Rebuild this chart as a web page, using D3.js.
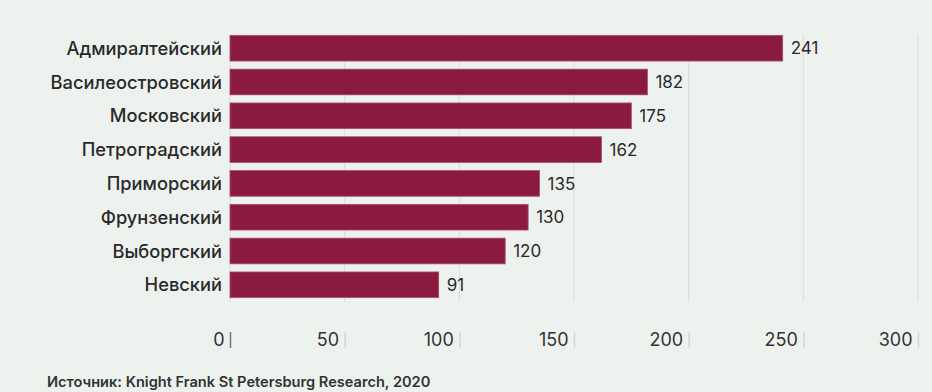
<!DOCTYPE html>
<html>
<head>
<meta charset="utf-8">
<script src="https://cdn.jsdelivr.net/npm/d3@7"></script>
<style>
  html, body { margin: 0; padding: 0; background: #eef2ef; }
  svg { display: block; font-family: Inter, "Noto Sans", sans-serif; }
</style>
</head>
<body>
<div id="chart"></div>
<script>
const districts = ['Адмиралтейский', 'Василеостровский', 'Московский', 'Петроградский',
  'Приморский', 'Фрунзенский', 'Выборгский', 'Невский'];
const values = [241, 182, 175, 162, 135, 130, 120, 91];
const ticks = [0, 50, 100, 150, 200, 250, 300];
const sourceNote = 'Источник: Knight Frank St Petersburg Research, 2020';

const width = 932, height = 392;
const margin = { top: 34, right: 14, bottom: 93, left: 230 };

const svg = d3.select('#chart').append('svg')
  .attr('width', width)
  .attr('height', height);

const x = d3.scaleLinear()
  .domain([0, 300])
  .range([margin.left, width - margin.right]);

const y = d3.scaleBand()
  .domain(districts)
  .range([margin.top, height - margin.bottom])
  .paddingInner(0.24)
  .paddingOuter(0.04);

// vertical grid lines behind the bars
svg.append('g')
  .selectAll('line')
  .data(ticks)
  .enter()
  .append('line')
  .attr('x1', d => x(d))
  .attr('x2', d => x(d))
  .attr('y1', margin.top)
  .attr('y2', height - margin.bottom + 3)
  .attr('stroke', '#d9dcda')
  .attr('stroke-width', 1);

svg.append('g')
  .selectAll('rect')
  .data(values)
  .enter()
  .append('rect')
  .attr('x', x(0))
  .attr('y', (d, i) => y(districts[i]))
  .attr('width', d => x(d) - x(0))
  .attr('height', y.bandwidth())
  .attr('fill', '#8a1b3f')
  .attr('stroke', '#a8506c')
  .attr('stroke-width', 0.8);

// value labels
svg.append('g')
  .selectAll('text')
  .data(values)
  .enter()
  .append('text')
  .attr('x', d => x(d) + 8)
  .attr('y', (d, i) => y(districts[i]) + y.bandwidth() / 2)
  .attr('dy', '0.36em')
  .attr('font-size', 17)
  .attr('fill', '#2a2a2a')
  .text(d => d);

// category labels
svg.append('g')
  .selectAll('text')
  .data(districts)
  .enter()
  .append('text')
  .attr('x', margin.left - 8)
  .attr('y', d => y(d) + y.bandwidth() / 2)
  .attr('dy', '0.36em')
  .attr('text-anchor', 'end')
  .attr('font-size', 18.3)
  .attr('font-weight', 500)
  .attr('fill', '#2a2a2a')
  .text(d => d);

// bottom axis
const axis = svg.append('g')
  .attr('transform', `translate(0, ${height - margin.bottom + 41})`)
  .call(d3.axisBottom(x).tickValues(ticks).tickSize(0).tickPadding(0));
axis.select('.domain').remove();
axis.selectAll('.tick text')
  .attr('x', -6)
  .attr('y', 0)
  .attr('dy', '0.36em')
  .attr('text-anchor', 'end')
  .attr('font-family', 'Inter, "Noto Sans", sans-serif')
  .attr('font-size', 18)
  .attr('fill', '#333');
axis.selectAll('.tick')
  .append('line')
  .attr('y1', -8)
  .attr('y2', 8)
  .attr('stroke', (d, i) => i === 0 ? '#777' : '#d3d6d4')
  .attr('stroke-width', 1.5);

svg.append('text')
  .attr('x', 47)
  .attr('y', 387)
  .attr('font-size', 14.6)
  .attr('font-weight', 600)
  .attr('fill', '#333')
  .text(sourceNote);
</script>
</body>
</html>
